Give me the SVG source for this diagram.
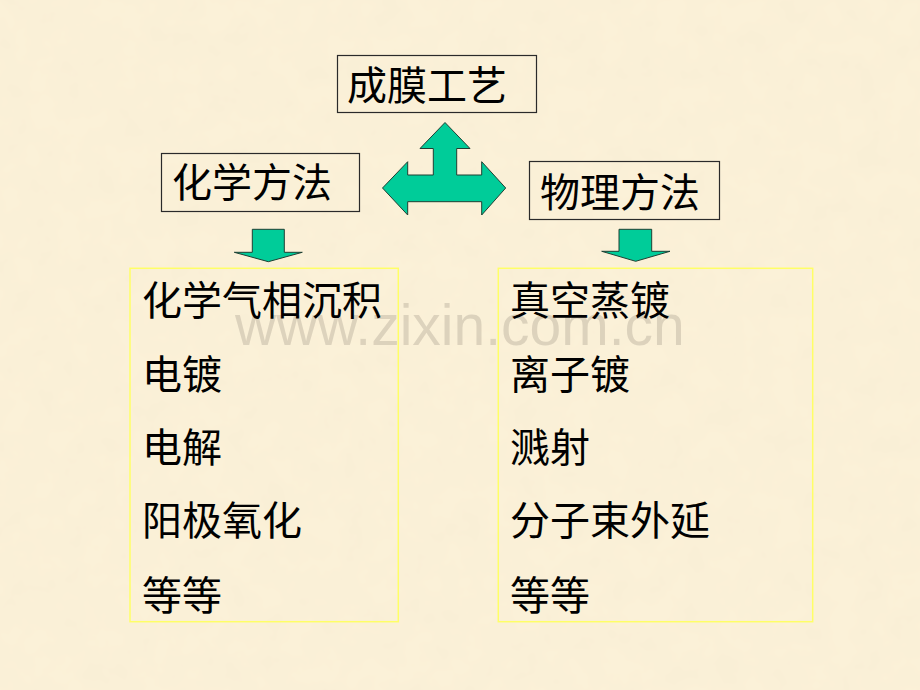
<svg xmlns="http://www.w3.org/2000/svg" width="920" height="690" viewBox="0 0 920 690">
  <defs>
    <filter id="paper" x="0" y="0" width="100%" height="100%">
      <feTurbulence type="fractalNoise" baseFrequency="0.035" numOctaves="3" seed="7" result="n"/>
      <feColorMatrix in="n" type="matrix" values="0 0 0 0 0.93  0 0 0 0 0.85  0 0 0 0 0.66  0 0 0 0.9 -0.25" result="c"/>
      <feComposite in="c" in2="SourceGraphic" operator="over"/>
    </filter>
    <style>
      .box { fill: none; stroke: #2a2a2a; stroke-width: 1.2; }
      .list { fill: none; stroke: #ffff66; stroke-width: 1.5; }
      .t { font-family: "Liberation Serif", "Noto Sans CJK SC", serif; font-size: 40px; fill: #000; }
      .arrow { fill: #00cc99; stroke: #1f3f33; stroke-width: 1; stroke-linejoin: miter; }
      .wm { font-family: "Liberation Sans", Arial, sans-serif; font-size: 57px; fill: #9a9080; opacity: 0.3; }
    </style>
  </defs>

  <rect x="0" y="0" width="920" height="690" fill="#fbf1d8" filter="url(#paper)"/>

  <text class="wm" x="235" y="345">www.zixin.com.cn</text>

  <g id="top">
    <rect class="box" x="337.5" y="55.5" width="199" height="57"/>
    <text class="t" x="347" y="100">成膜工艺</text>
  </g>

  <g id="chem">
    <rect class="box" x="161.5" y="153.5" width="198" height="58"/>
    <text class="t" x="172" y="197">化学方法</text>
  </g>

  <g id="phys">
    <rect class="box" x="529.5" y="161.5" width="190" height="58"/>
    <text class="t" x="540" y="207">物理方法</text>
  </g>

  <g id="connectors">
    <polygon class="arrow" points="445,122.5 470,148.5 456.7,148.5 456.7,175 481.7,175 481.7,161.7 505.7,188 481.7,215 481.7,201.7 407.7,201.7 407.7,215 382.5,188 407.7,161.7 407.7,175 433.3,175 433.3,148.5 420,148.5"/>
    <polygon class="arrow" points="252.3,229.3 284.3,229.3 284.3,252.3 302.3,252.3 268.3,261.7 234.3,252.3 252.3,252.3"/>
    <polygon class="arrow" points="619,229.3 651.7,229.3 651.7,251.3 670,251.3 635.7,261.3 601.7,251.3 619,251.3"/>
  </g>

  <g id="chem-list">
    <rect class="list" x="130" y="268.3" width="268.3" height="353.4"/>
    <text class="t" x="142" y="315">化学气相沉积</text>
    <text class="t" x="142" y="389">电镀</text>
    <text class="t" x="142" y="462">电解</text>
    <text class="t" x="142" y="535">阳极氧化</text>
    <text class="t" x="142" y="610">等等</text>
  </g>

  <g id="phys-list">
    <rect class="list" x="498.3" y="268.3" width="314.4" height="353.4"/>
    <text class="t" x="510" y="315">真空蒸镀</text>
    <text class="t" x="510" y="389">离子镀</text>
    <text class="t" x="510" y="462">溅射</text>
    <text class="t" x="510" y="535">分子束外延</text>
    <text class="t" x="510" y="610">等等</text>
  </g>
</svg>
